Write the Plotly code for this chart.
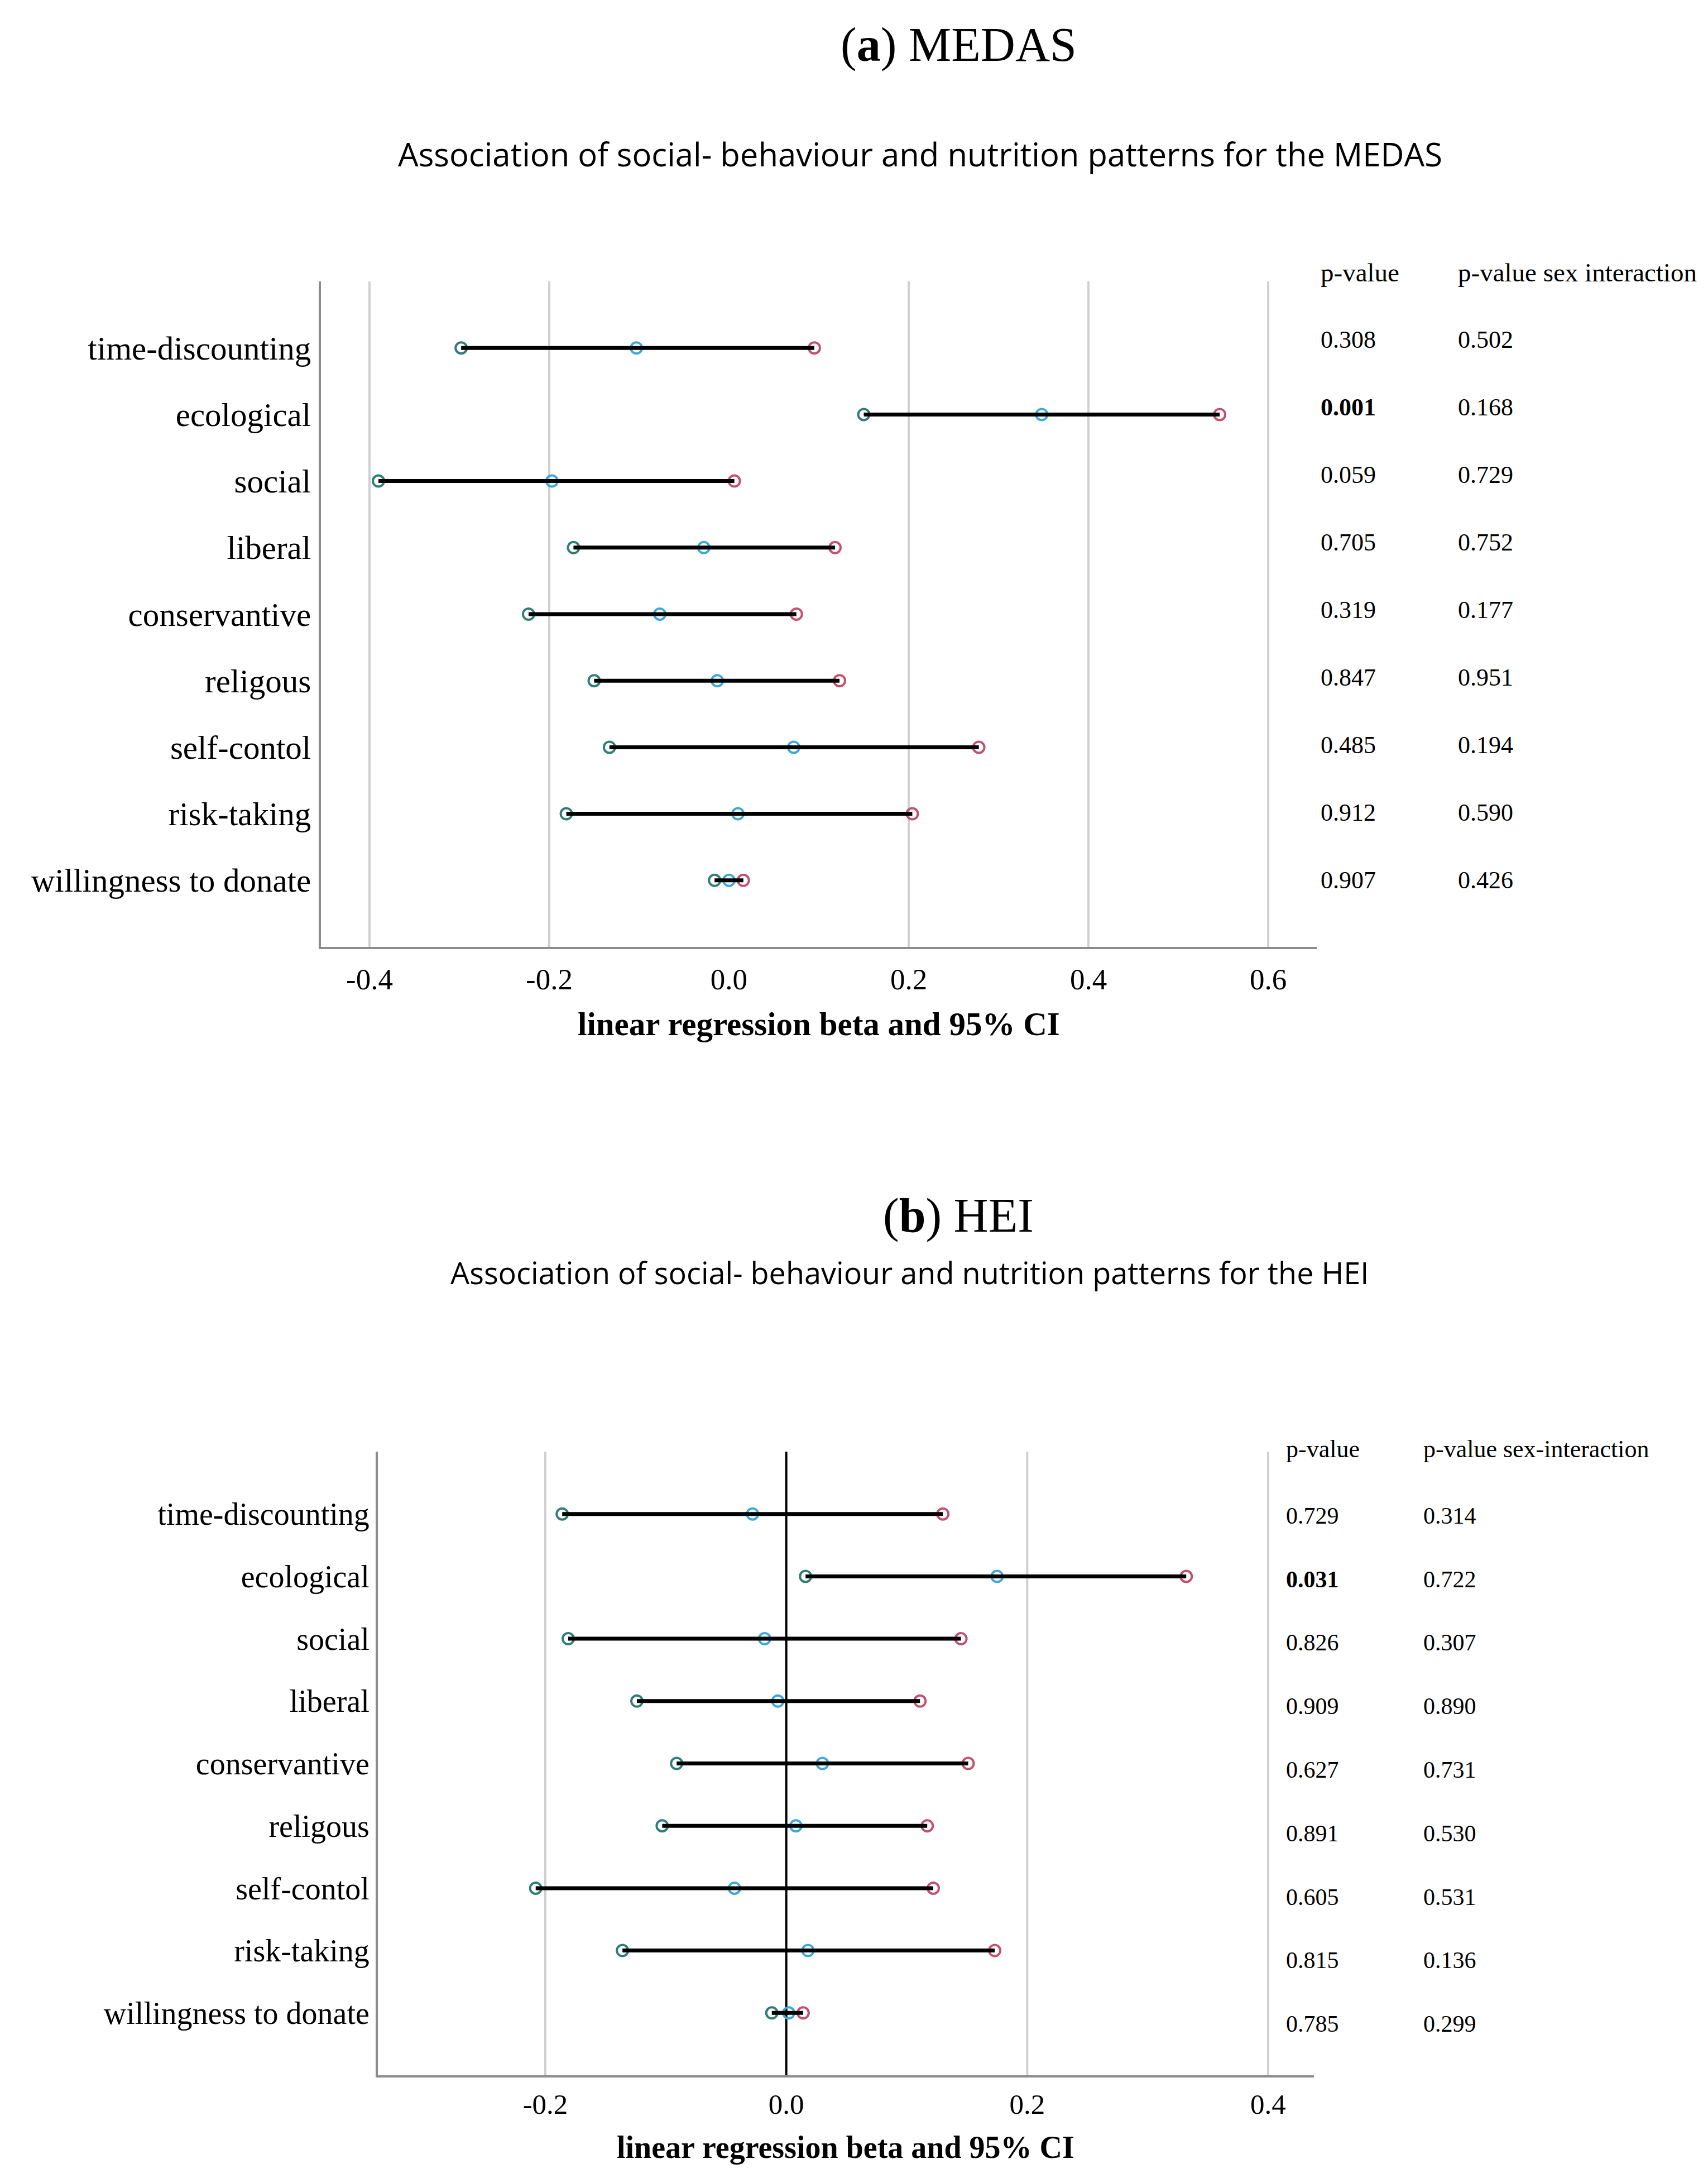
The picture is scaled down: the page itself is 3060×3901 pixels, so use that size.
import plotly.graph_objects as go

categories = ["time-discounting", "ecological", "social", "liberal", "conservantive",
              "religous", "self-contol", "risk-taking", "willingness to donate"]

medas_lower = [-0.298, 0.150, -0.390, -0.173, -0.223, -0.150, -0.133, -0.181, -0.016]
medas_beta = [-0.103, 0.348, -0.197, -0.028, -0.077, -0.013, 0.072, 0.010, 0.000]
medas_upper = [0.095, 0.546, 0.006, 0.118, 0.075, 0.123, 0.278, 0.204, 0.016]
medas_p = ["0.308", "0.001", "0.059", "0.705", "0.319", "0.847", "0.485", "0.912", "0.907"]
medas_p_sex = ["0.502", "0.168", "0.729", "0.752", "0.177", "0.951", "0.194", "0.590", "0.426"]

hei_lower = [-0.186, 0.016, -0.181, -0.124, -0.091, -0.103, -0.208, -0.136, -0.012]
hei_beta = [-0.028, 0.175, -0.018, -0.007, 0.030, 0.008, -0.043, 0.018, 0.002]
hei_upper = [0.130, 0.332, 0.145, 0.111, 0.151, 0.117, 0.122, 0.173, 0.014]
hei_p = ["0.729", "0.031", "0.826", "0.909", "0.627", "0.891", "0.605", "0.815", "0.785"]
hei_p_sex = ["0.314", "0.722", "0.307", "0.890", "0.731", "0.530", "0.531", "0.136", "0.299"]

medas_ticks = [-0.4, -0.2, 0.0, 0.2, 0.4, 0.6]
hei_ticks = [-0.2, 0.0, 0.2, 0.4]

SERIF = "Liberation Serif"
SANS = "Open Sans"
C_LO = "#2f7d78"
C_MID = "#3ea8da"
C_HI = "#c4506f"

W, H = 3060, 3901
fig = go.Figure()
rows = list(range(len(categories)))


def add_panel(lower, beta, upper, xa, ya):
    for vals, col in [(lower, C_LO), (beta, C_MID), (upper, C_HI)]:
        fig.add_trace(go.Scatter(
            x=vals, y=rows, mode="markers", xaxis=xa, yaxis=ya, showlegend=False,
            marker=dict(symbol="circle-open", size=20, color=col, line=dict(width=4, color=col)),
            hoverinfo="skip"))
    lx, ly = [], []
    for i in rows:
        lx += [lower[i], upper[i], None]
        ly += [i, i, None]
    fig.add_trace(go.Scatter(x=lx, y=ly, mode="lines", xaxis=xa, yaxis=ya, showlegend=False,
                             line=dict(color="black", width=7), hoverinfo="skip"))


add_panel(medas_lower, medas_beta, medas_upper, "x", "y")
add_panel(hei_lower, hei_beta, hei_upper, "x2", "y2")

axis_common = dict(showline=True, linecolor="#8c8c8c", linewidth=4, mirror=False,
                   zeroline=False, ticks="outside", tickcolor="rgba(0,0,0,0)")

fig.update_layout(
    width=W, height=H, margin=dict(l=0, r=0, t=0, b=0),
    paper_bgcolor="white", plot_bgcolor="white",
    xaxis=dict(domain=[575 / W, 2359 / W], range=[-0.454, 0.654], anchor="y",
               tickvals=medas_ticks, ticktext=[f"{v:.1f}" for v in medas_ticks],
               showgrid=False, ticklen=8,
               tickfont=dict(family=SERIF, size=53, color="black"), **axis_common),
    yaxis=dict(domain=[1 - 1696 / H, 1 - 504 / H], range=[9, -1], anchor="x",
               tickvals=rows, ticktext=categories, showgrid=False, ticklen=2,
               tickfont=dict(family=SERIF, size=59, color="black"), **axis_common),
    xaxis2=dict(domain=[677 / W, 2354 / W], range=[-0.339, 0.438], anchor="y2",
                tickvals=hei_ticks, ticktext=[f"{v:.1f}" for v in hei_ticks],
                showgrid=False, ticklen=4,
                tickfont=dict(family=SERIF, size=51, color="black"), **axis_common),
    yaxis2=dict(domain=[1 - 3717 / H, 1 - 2600 / H], range=[9, -1], anchor="x2",
                tickvals=rows, ticktext=categories, showgrid=False, ticklen=0,
                tickfont=dict(family=SERIF, size=56, color="black"), **axis_common),
)

shapes = []
for v in [-0.4, -0.2, 0.2, 0.4, 0.6]:
    shapes.append(dict(type="line", xref="x", yref="y domain", x0=v, x1=v, y0=0, y1=1,
                       line=dict(color="#d0d0d0", width=4), layer="below"))
for v in [-0.2, 0.2, 0.4]:
    shapes.append(dict(type="line", xref="x2", yref="y2 domain", x0=v, x1=v, y0=0, y1=1,
                       line=dict(color="#d0d0d0", width=4), layer="below"))
shapes.append(dict(type="line", xref="x2", yref="y2 domain", x0=0, x1=0, y0=0, y1=1,
                   line=dict(color="black", width=4), layer="below"))
fig.update_layout(shapes=shapes)

ann = []


def txt(text, x, y, size, family=SERIF, xanchor="center", yanchor="middle", xref="paper",
        yref="paper", yshift=0):
    ann.append(dict(text=text, x=x, y=y, xref=xref, yref=yref, xanchor=xanchor,
                    yanchor=yanchor, showarrow=False, yshift=yshift,
                    font=dict(family=family, size=size, color="black")))


# Panel titles
txt("(<b>a</b>) MEDAS", 1717 / W, 1 - 80 / H, 86)
txt("Association of social- behaviour and nutrition patterns for the MEDAS",
    1648 / W, 1 - 276 / H, 58, family=SANS)
txt("(<b>b</b>) HEI", 1717 / W, 1 - 2177 / H, 86)
txt("Association of social- behaviour and nutrition patterns for the HEI",
    1629 / W, 1 - 2279 / H, 54, family=SANS)
# Axis titles
txt("<b>linear regression beta and 95% CI</b>", 1467 / W, 1 - 1834 / H, 59)
txt("<b>linear regression beta and 95% CI</b>", 1515 / W, 1 - 3846 / H, 56)


def add_table(pvals, psex, yref, x1, x2, header2, header_y, hsize, vsize, shift0, shift_step):
    txt("p-value", x1 / W, 1 - header_y / H, hsize, xanchor="left")
    txt(header2, x2 / W, 1 - header_y / H, hsize, xanchor="left")
    for i in rows:
        p = pvals[i]
        t = f"<b>{p}</b>" if float(p) < 0.05 else p
        ys = shift0 + shift_step * i
        txt(t, x1 / W, i, vsize, xanchor="left", yref=yref, yshift=ys)
        txt(psex[i], x2 / W, i, vsize, xanchor="left", yref=yref, yshift=ys)


add_table(medas_p, medas_p_sex, "y", 2364, 2610, "p-value sex interaction", 488, 47, 44, 15, -15 / 8)
add_table(hei_p, hei_p_sex, "y2", 2302, 2548, "p-value sex-interaction", 2595, 44, 42, -3, -17 / 8)

fig.update_layout(annotations=ann)
fig.write_html("out.html", post_script="document.body.style.margin='0';",
               config={"displayModeBar": False})
